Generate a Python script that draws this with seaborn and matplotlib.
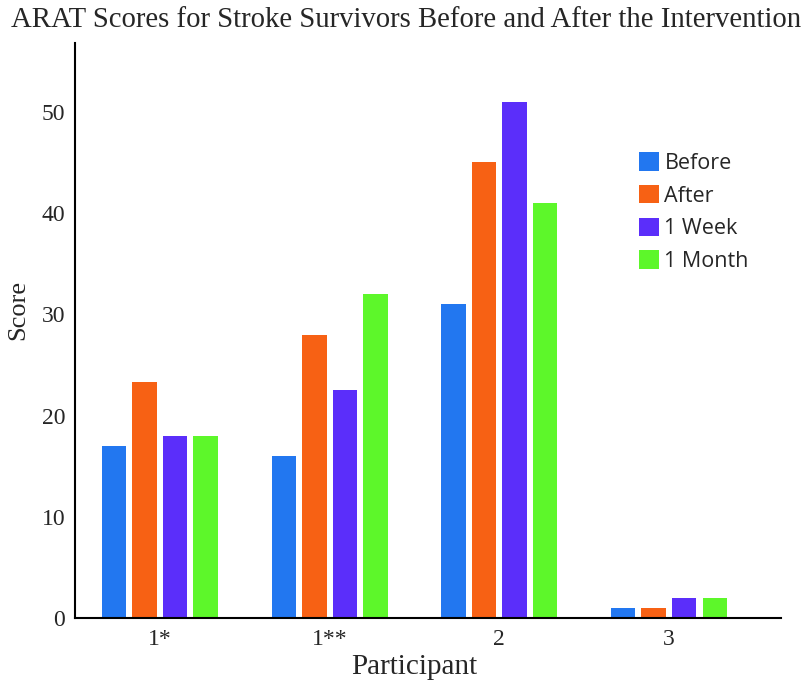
import matplotlib
matplotlib.use("Agg")
import matplotlib.pyplot as plt
import seaborn as sns
import pandas as pd
from matplotlib.patches import Patch

participants = ["1*", "1**", "2", "3"]
before = [17, 16, 31, 1]
after = [23.3, 28, 45, 1]
one_week = [18, 22.5, 51, 2]
one_month = [18, 32, 41, 2]
series_names = ["Before", "After", "1 Week", "1 Month"]
colors = ["#2277F0", "#F76114", "#5B2EFA", "#5DF72A"]
yticks = [0, 10, 20, 30, 40, 50]

rows = []
for name, vals in zip(series_names, [before, after, one_week, one_month]):
    for p, v in zip(participants, vals):
        rows.append({"Participant": p, "Score": v, "Time": name})
df = pd.DataFrame(rows)

sns.set_style("white")
serif = ["Liberation Serif", "DejaVu Serif"]

fig = plt.figure(figsize=(8.12, 6.85), dpi=100)
ax = fig.add_axes([75/812, 1-618/685, (781-75)/812, (618-43)/685])

sns.barplot(data=df, x="Participant", y="Score", hue="Time", order=participants,
            hue_order=series_names, palette=colors, width=0.72, gap=0.2,
            ax=ax, legend=False, edgecolor="none", saturation=1)

ax.set_xlim(-0.5, 3.66)
ax.set_ylim(0, 56.8)
ax.set_yticks(yticks)
ax.set_yticklabels([str(t) for t in yticks], fontfamily=serif, fontsize=17)
ax.set_xticks(range(len(participants)))
ax.set_xticklabels(participants, fontfamily=serif, fontsize=17)
ax.tick_params(axis="y", direction="out", length=5, width=1.2, color="black", pad=2)
ax.tick_params(axis="x", length=0, pad=8)
for s in ["top", "right"]:
    ax.spines[s].set_visible(False)
for s in ["left", "bottom"]:
    ax.spines[s].set_color("black")
    ax.spines[s].set_linewidth(1.5)

ax.set_xlabel("Participant", fontfamily=serif, fontsize=21)
ax.xaxis.set_label_coords((414.5-75)/706, -0.062)
ax.set_ylabel("Score", fontfamily=serif, fontsize=19)
ax.yaxis.set_label_coords(-(75-29)/706, (618-310)/575)
fig.text(0.5, 0.99, "ARAT Scores for Stroke Survivors Before and After the Intervention",
         ha="center", va="top", fontfamily=serif, fontsize=20.7)

handles = [Patch(facecolor=c, edgecolor="none") for c in colors]
leg = ax.legend(handles, series_names, loc="upper left", bbox_to_anchor=(0.799, 0.81),
                frameon=False, prop={"family": "Open Sans", "size": 15.5},
                handlelength=0.93, handleheight=0.93, handletextpad=0.25,
                labelspacing=0.52, borderaxespad=0, borderpad=0)

fig.savefig("out.png", dpi=100)
